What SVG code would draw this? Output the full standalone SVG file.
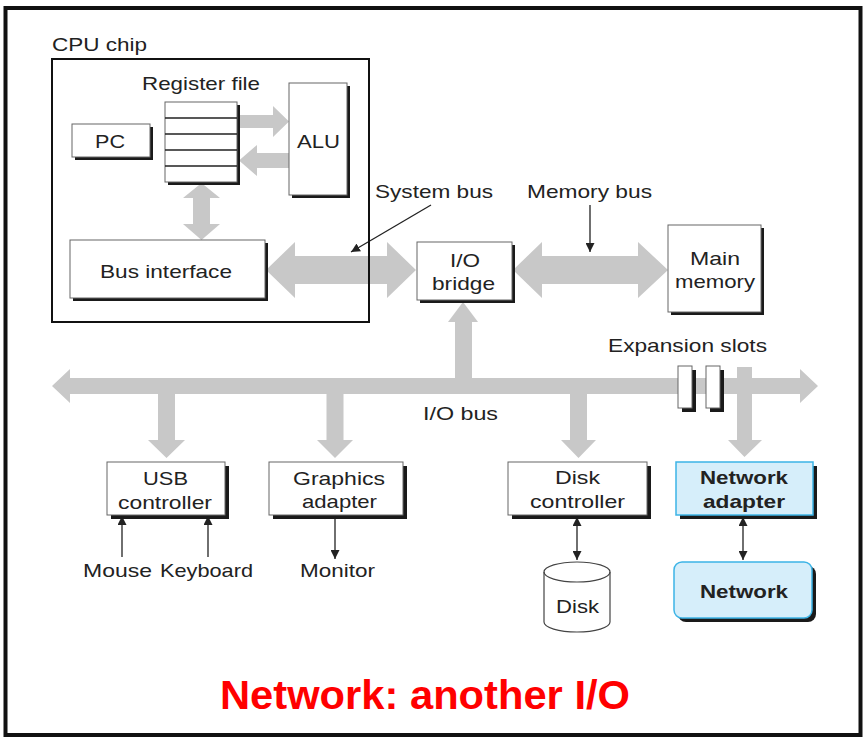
<svg xmlns="http://www.w3.org/2000/svg" width="868" height="744" viewBox="0 0 868 744">
<defs>
<style>
text{font-family:"Liberation Sans",Arial,Helvetica,sans-serif;font-size:19px;fill:#222}
.b{font-weight:bold}
.box{fill:#fff;stroke:#666;stroke-width:1}
.sh{fill:#1a1a1a}
.blue{fill:#d6eefa;stroke:#3db4e6;stroke-width:1.5}
.bus{fill:#c8c8c8}
.ln{stroke:#222;stroke-width:1.3;fill:none}
</style>
<marker id="ah" viewBox="0 0 10 10" refX="10" refY="5" markerWidth="9" markerHeight="9" markerUnits="userSpaceOnUse" orient="auto-start-reverse">
<path d="M0,0 L10,5 L0,10 z" fill="#222"/>
</marker>
</defs>
<rect x="5.5" y="8" width="855" height="727" fill="#fff" stroke="#111" stroke-width="4"/>

<g id="connectors">
<polygon class="bus" points="237,115 273,115 273,106 289,121.5 273,137 273,128 237,128"/>
<polygon class="bus" points="289,153 257,153 257,145 239,160.5 257,176 257,168 289,168"/>
<polygon class="bus" points="201.5,183 220,198 210,198 210,224 220,224 201.5,240 183,224 193,224 193,198 183,198"/>
<polygon class="bus" points="266,270 295,242 295,256 387,256 387,242 416,270 387,298 387,284 295,284 295,298"/>
<polygon class="bus" points="513,270 542,242 542,256 638,256 638,242 668,270 638,298 638,284 542,284 542,298"/>
<polygon class="bus" points="52,386 70,369 70,378 800,378 800,369 818,386 800,403 800,394 70,394 70,403"/>
<polygon class="bus" points="463,302 478,322 472,322 472,386 455,386 455,322 448,322"/>
<polygon class="bus" points="158,386 175,386 175,440 185,440 166.5,458 148,440 158,440"/>
<polygon class="bus" points="326.5,386 343.5,386 343.5,440 353,440 335,458 317,440 326.5,440"/>
<polygon class="bus" points="570,386 587,386 587,440 596,440 578.5,458 561,440 570,440"/>
<polygon class="bus" points="737,367 752,367 752,440 762,440 744.5,457 728,440 737,440"/>
<line class="ln" x1="431" y1="205" x2="351" y2="252" marker-end="url(#ah)"/>
<line class="ln" x1="590" y1="205" x2="590" y2="252" marker-end="url(#ah)"/>
<line class="ln" x1="122" y1="557" x2="122" y2="516" marker-end="url(#ah)"/>
<line class="ln" x1="208" y1="557" x2="208" y2="516" marker-end="url(#ah)"/>
<line class="ln" x1="335" y1="517" x2="335" y2="559" marker-end="url(#ah)"/>
<line class="ln" x1="577" y1="517" x2="577" y2="560" marker-start="url(#ah)" marker-end="url(#ah)"/>
<line class="ln" x1="743" y1="517" x2="743" y2="560" marker-start="url(#ah)" marker-end="url(#ah)"/>
</g>

<g id="cpu-chip">
<rect x="52" y="59" width="317" height="263" fill="none" stroke="#111" stroke-width="2"/>
<text x="52" y="51" textLength="95" lengthAdjust="spacingAndGlyphs">CPU chip</text>
</g>

<g id="register-file">
<rect class="sh" x="168" y="105" width="72" height="80"/>
<rect class="box" x="165" y="102" width="72" height="80"/>
<path class="ln" d="M165,118H237M165,134H237M165,150H237M165,166H237" stroke="#555" stroke-width="1"/>
<text x="142" y="90" textLength="118" lengthAdjust="spacingAndGlyphs">Register file</text>
</g>

<g id="pc">
<rect class="sh" x="75" y="127" width="78" height="33"/>
<rect class="box" x="72" y="124" width="78" height="33"/>
<text x="95" y="148" textLength="30" lengthAdjust="spacingAndGlyphs">PC</text>
</g>

<g id="alu">
<rect class="sh" x="292" y="86" width="58" height="112"/>
<rect class="box" x="289" y="83" width="58" height="112"/>
<text x="297" y="148" textLength="43" lengthAdjust="spacingAndGlyphs">ALU</text>
</g>

<g id="bus-interface">
<rect class="sh" x="73" y="243" width="195" height="58"/>
<rect class="box" x="70" y="240" width="195" height="58"/>
<text x="100" y="278" textLength="132" lengthAdjust="spacingAndGlyphs">Bus interface</text>
</g>

<g id="labels">
<text x="375" y="198" textLength="118" lengthAdjust="spacingAndGlyphs">System bus</text>
<text x="527" y="198" textLength="125" lengthAdjust="spacingAndGlyphs">Memory bus</text>
<text x="608" y="352" textLength="159" lengthAdjust="spacingAndGlyphs">Expansion slots</text>
<text x="423" y="420" textLength="75" lengthAdjust="spacingAndGlyphs">I/O bus</text>
<text x="83" y="577" textLength="69" lengthAdjust="spacingAndGlyphs">Mouse</text>
<text x="160" y="577" textLength="93" lengthAdjust="spacingAndGlyphs">Keyboard</text>
<text x="300" y="577" textLength="75" lengthAdjust="spacingAndGlyphs">Monitor</text>
</g>

<g id="io-bridge">
<rect class="sh" x="420" y="245" width="95" height="58"/>
<rect class="box" x="417" y="242" width="95" height="58"/>
<text x="450" y="267" textLength="30" lengthAdjust="spacingAndGlyphs">I/O</text>
<text x="432" y="290" textLength="63" lengthAdjust="spacingAndGlyphs">bridge</text>
</g>

<g id="main-memory">
<rect class="sh" x="671" y="228" width="93" height="87"/>
<rect class="box" x="668" y="225" width="93" height="87"/>
<text x="690" y="265" textLength="50" lengthAdjust="spacingAndGlyphs">Main</text>
<text x="675" y="288" textLength="80" lengthAdjust="spacingAndGlyphs">memory</text>
</g>

<g id="expansion-slots">
<rect class="sh" x="682" y="370" width="14" height="42"/>
<rect class="box" x="678" y="366" width="14" height="42"/>
<rect class="sh" x="710" y="370" width="14" height="42"/>
<rect class="box" x="706" y="366" width="14" height="42"/>
</g>

<g id="usb-controller">
<rect class="sh" x="111" y="466" width="118" height="53"/>
<rect class="box" x="107" y="462" width="118" height="53"/>
<text x="143" y="485" textLength="45" lengthAdjust="spacingAndGlyphs">USB</text>
<text x="118" y="509" textLength="94" lengthAdjust="spacingAndGlyphs">controller</text>
</g>

<g id="graphics-adapter">
<rect class="sh" x="273" y="466" width="134" height="53"/>
<rect class="box" x="269" y="462" width="134" height="53"/>
<text x="293" y="485" textLength="92" lengthAdjust="spacingAndGlyphs">Graphics</text>
<text x="302" y="508" textLength="75" lengthAdjust="spacingAndGlyphs">adapter</text>
</g>

<g id="disk-controller">
<rect class="sh" x="512" y="466" width="139" height="53"/>
<rect class="box" x="508" y="462" width="139" height="53"/>
<text x="555" y="484" textLength="45" lengthAdjust="spacingAndGlyphs">Disk</text>
<text x="530" y="508" textLength="95" lengthAdjust="spacingAndGlyphs">controller</text>
</g>

<g id="network-adapter">
<rect class="sh" x="680" y="466" width="137" height="53"/>
<rect class="blue" x="676" y="462" width="137" height="53"/>
<text class="b" x="700" y="484" textLength="88" lengthAdjust="spacingAndGlyphs">Network</text>
<text class="b" x="703" y="508" textLength="82" lengthAdjust="spacingAndGlyphs">adapter</text>
</g>

<g id="disk">
<path d="M544,572 A33,10 0 0,1 610,572 V622 A33,10 0 0,1 544,622 Z" fill="#fff" stroke="#444" stroke-width="1.2"/>
<path d="M544,572 A33,10 0 0,0 610,572" fill="none" stroke="#444" stroke-width="1.2"/>
<text x="556" y="613" textLength="43" lengthAdjust="spacingAndGlyphs">Disk</text>
</g>

<g id="network">
<rect class="sh" x="678" y="566" width="138" height="56" rx="8"/>
<rect class="blue" x="674" y="562" width="138" height="56" rx="8"/>
<text class="b" x="700" y="598" textLength="88" lengthAdjust="spacingAndGlyphs">Network</text>
</g>

<g id="title">
<text x="425" y="709" text-anchor="middle" class="b" style="font-size:41px;fill:#ff0000" textLength="410" lengthAdjust="spacingAndGlyphs">Network: another I/O</text>
</g>
</svg>
